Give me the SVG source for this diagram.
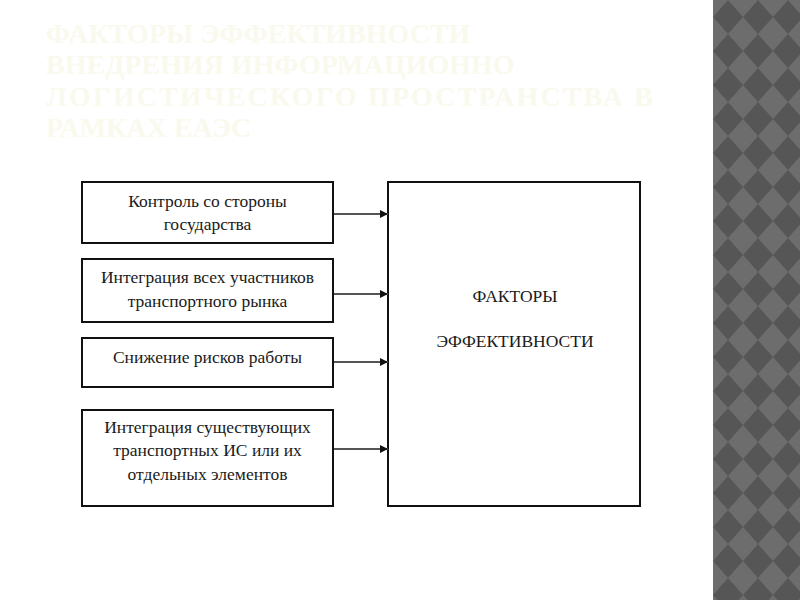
<svg xmlns="http://www.w3.org/2000/svg" width="800" height="600" viewBox="0 0 800 600">
<style>
.box{fill:#fff;stroke:#111;stroke-width:2}
.t{font-size:17.5px;fill:#1a1a1a;text-anchor:middle}
.big{font-size:17.5px;fill:#1a1a1a;text-anchor:middle}
.title{font-size:28px;font-weight:bold;fill:#faf9ee}
.conn{stroke:#555;stroke-width:2;fill:none;marker-end:url(#arr)}
</style>
<defs>
<marker id="arr" viewBox="0 0 10 10" refX="10" refY="5" markerWidth="5" markerHeight="4" orient="auto" markerUnits="strokeWidth">
<path d="M0,0 L10,5 L0,10 z" fill="#111"/>
</marker>
<pattern id="dia" x="713" y="0" width="30" height="34" patternUnits="userSpaceOnUse">
<rect width="30" height="34" fill="#6d6d6d"/>
<polygon points="15,0 30,17 15,34 0,17" fill="#565656"/>
</pattern>
</defs>
<rect width="800" height="600" fill="#fff"/>
<rect x="713" y="0" width="87" height="600" fill="url(#dia)"/>
<g id="title" font-family="Liberation Serif, Times New Roman, serif">
<text class="title" x="46" y="43">ФАКТОРЫ ЭФФЕКТИВНОСТИ</text>
<text class="title" x="46" y="74">ВНЕДРЕНИЯ ИНФОРМАЦИОННО</text>
<text class="title" x="46" y="106" textLength="607" lengthAdjust="spacing">ЛОГИСТИЧЕСКОГО ПРОСТРАНСТВА В</text>
<text class="title" x="46" y="137">РАМКАХ ЕАЭС</text>
</g>
<g id="n1" font-family="Liberation Serif, Times New Roman, serif">
<rect class="box" x="82" y="182" width="251" height="61"/>
<text class="t" x="207.5" y="207">Контроль со стороны</text>
<text class="t" x="207.5" y="230">государства</text>
</g>
<g id="n2" font-family="Liberation Serif, Times New Roman, serif">
<rect class="box" x="82" y="259" width="251" height="63"/>
<text class="t" x="207.5" y="283">Интеграция всех участников</text>
<text class="t" x="207.5" y="307">транспортного рынка</text>
</g>
<g id="n3" font-family="Liberation Serif, Times New Roman, serif">
<rect class="box" x="82" y="338" width="251" height="49"/>
<text class="t" x="207.5" y="363">Снижение рисков работы</text>
</g>
<g id="n4" font-family="Liberation Serif, Times New Roman, serif">
<rect class="box" x="82" y="410" width="251" height="96"/>
<text class="t" x="207.5" y="433">Интеграция существующих</text>
<text class="t" x="207.5" y="456">транспортных ИС или их</text>
<text class="t" x="207.5" y="480">отдельных элементов</text>
</g>
<g id="main" font-family="Liberation Serif, Times New Roman, serif">
<rect class="box" x="388" y="182" width="252" height="324"/>
<text class="big" x="515" y="302">ФАКТОРЫ</text>
<text class="big" x="515" y="347">ЭФФЕКТИВНОСТИ</text>
</g>
<g id="connectors">
<line class="conn" x1="334" y1="214" x2="388" y2="214"/>
<line class="conn" x1="334" y1="294" x2="388" y2="294"/>
<line class="conn" x1="334" y1="362" x2="388" y2="362"/>
<line class="conn" x1="334" y1="449" x2="388" y2="449"/>
</g>
</svg>
